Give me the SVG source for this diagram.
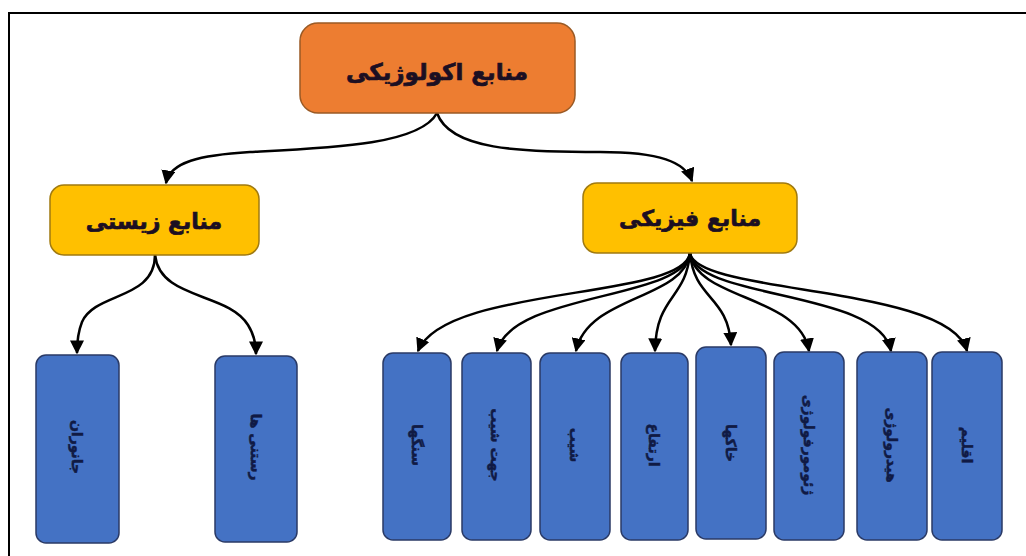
<svg xmlns="http://www.w3.org/2000/svg" width="1026" height="556" viewBox="0 0 1026 556">
  <defs>
    <marker id="arrow" viewBox="0 0 10 10" refX="9" refY="5" markerWidth="14" markerHeight="14" markerUnits="userSpaceOnUse" orient="auto">
      <path d="M0,0 L10,5 L0,10 z" fill="#000"/>
    </marker>
    <style>
      .root { fill: #ED7D31; stroke: #9a5a25; stroke-width: 1.5; }
      .group { fill: #FFC000; stroke: #a07a10; stroke-width: 1.5; }
      .leaf { fill: #4472C4; stroke: #2a3a66; stroke-width: 1.5; }
      .title { font-family: "DejaVu Sans", "Noto Sans", sans-serif; font-weight: bold; fill: #1c0f22; stroke: #1c0f22; stroke-width: 0.7; text-anchor: middle; dominant-baseline: central; }
      .leafText { font-family: "DejaVu Sans", "Noto Sans", sans-serif; font-weight: bold; font-size: 14px; fill: #101a44; stroke: #101a44; stroke-width: 0.5; text-anchor: middle; dominant-baseline: central; }
      .edge { fill: none; stroke: #000; stroke-width: 2.5; marker-end: url(#arrow); }
    </style>
  </defs>
  <rect width="1026" height="556" fill="#fff"/>
  <!-- outer frame -->
  <rect x="9" y="13" width="1030" height="560" fill="none" stroke="#000" stroke-width="2"/>

  <g id="connectors">
    <path class="edge" d="M437,113 C420,145 330,148 250,152 C200,155 170,162 166,183"/>
    <path class="edge" d="M437,113 C450,150 520,152 600,152 C660,152 685,162 692,181"/>
    <path class="edge" d="M155,255 C155,300 95,292 82,322 C78,332 77,342 77,353"/>
    <path class="edge" d="M155,255 C160,300 228,292 248,325 C255,336 256,345 256,354"/>
    <path class="edge" d="M690,253 C684,300 445,285 418,351"/>
    <path class="edge" d="M690,253 C684,300 512,292 497,351"/>
    <path class="edge" d="M690,253 C684,300 588,295 576,351"/>
    <path class="edge" d="M690,253 C686,300 656,295 655,351"/>
    <path class="edge" d="M690,253 C694,300 728,295 731,345"/>
    <path class="edge" d="M690,253 C696,300 800,295 809,351"/>
    <path class="edge" d="M690,253 C696,300 880,290 891,351"/>
    <path class="edge" d="M690,253 C696,295 950,285 967,351"/>
  </g>

  <g id="node-ecological">
    <rect class="root" x="300" y="23" width="275" height="90" rx="18"/>
    <text class="title" x="437" y="72" font-size="23">منابع اکولوژیکی</text>
  </g>
  <g id="node-biotic">
    <rect class="group" x="50" y="185" width="209" height="70" rx="14"/>
    <text class="title" x="154" y="221" font-size="22">منابع زیستی</text>
  </g>
  <g id="node-physical">
    <rect class="group" x="583" y="183" width="214" height="70" rx="14"/>
    <text class="title" x="690" y="218" font-size="22">منابع فیزیکی</text>
  </g>

  <g id="leaf-animals">
    <rect class="leaf" x="36" y="355" width="83" height="188" rx="10"/>
    <text class="leafText" transform="translate(77,447) rotate(90)">جانوران</text>
  </g>
  <g id="leaf-plants">
    <rect class="leaf" x="215" y="356" width="82" height="186" rx="10"/>
    <text class="leafText" transform="translate(256,447) rotate(90)">رستنی ها</text>
  </g>
  <g id="leaf-rocks">
    <rect class="leaf" x="383" y="353" width="68" height="187" rx="10"/>
    <text class="leafText" transform="translate(417,445) rotate(90)">سنگها</text>
  </g>
  <g id="leaf-aspect">
    <rect class="leaf" x="462" y="353" width="69" height="187" rx="10"/>
    <text class="leafText" transform="translate(496,445) rotate(90)">جهت شیب</text>
  </g>
  <g id="leaf-slope">
    <rect class="leaf" x="540" y="353" width="70" height="187" rx="10"/>
    <text class="leafText" transform="translate(575,445) rotate(90)">شیب</text>
  </g>
  <g id="leaf-elevation">
    <rect class="leaf" x="621" y="353" width="67" height="187" rx="10"/>
    <text class="leafText" transform="translate(654,445) rotate(90)">ارتفاع</text>
  </g>
  <g id="leaf-soils">
    <rect class="leaf" x="696" y="347" width="70" height="192" rx="10"/>
    <text class="leafText" transform="translate(731,443) rotate(90)">خاکها</text>
  </g>
  <g id="leaf-geomorphology">
    <rect class="leaf" x="774" y="352" width="70" height="188" rx="10"/>
    <text class="leafText" transform="translate(809,445) rotate(90)">ژئومورفولوژی</text>
  </g>
  <g id="leaf-hydrology">
    <rect class="leaf" x="857" y="352" width="70" height="188" rx="10"/>
    <text class="leafText" transform="translate(892,445) rotate(90)">هیدرولوژی</text>
  </g>
  <g id="leaf-climate">
    <rect class="leaf" x="932" y="352" width="70" height="188" rx="10"/>
    <text class="leafText" transform="translate(967,445) rotate(90)">اقلیم</text>
  </g>
</svg>
